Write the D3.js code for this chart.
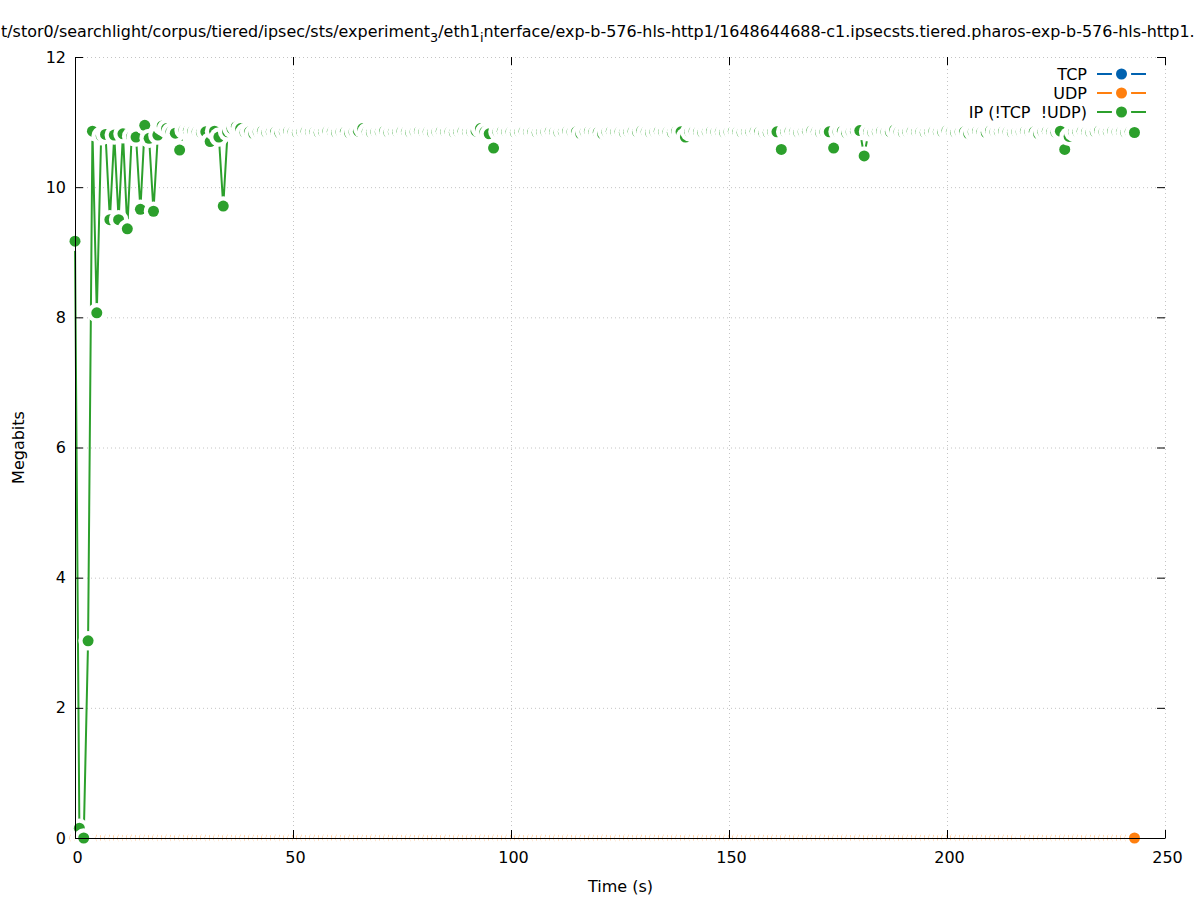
<!DOCTYPE html>
<html>
<head>
<meta charset="utf-8">
<script src="https://cdn.jsdelivr.net/npm/d3@7"></script>
<style>
  html, body { margin: 0; padding: 0; background: #ffffff; }
  svg { display: block; font-family: "DejaVu Sans", sans-serif; }
  text { white-space: pre; }
</style>
</head>
<body>
<svg id="chart" width="1197" height="900"></svg>
<script>
// ---------------- data ----------------
const titleParts = [
  { text: "t/stor0/searchlight/corpus/tiered/ipsec/sts/experiment", sub: false },
  { text: "3", sub: true },
  { text: "/eth1", sub: false },
  { text: "i", sub: true },
  { text: "nterface/exp-b-576-hls-http1/1648644688-c1.ipsecsts.tiered.pharos-exp-b-576-hls-http1.", sub: false }
];
const xLabel = "Time (s)";
const yLabel = "Megabits";
const xTicks = [0, 50, 100, 150, 200, 250];
const yTicks = [0, 2, 4, 6, 8, 10, 12];
const seriesNames = ["TCP", "UDP", "IP (!TCP  !UDP)"];
const seriesColors = ["#0062b0", "#ff7f0e", "#2ca02c"];

const times = [
  0,1,2,3,4,5,6,7,8,9,10,11,12,13,14,15,16,17,18,19,
  20,21,22,23,24,25,26,27,28,29,30,31,32,33,34,35,36,37,38,39,
  40,41,42,43,44,45,46,47,48,49,50,51,52,53,54,55,56,57,58,59,
  60,61,62,63,64,65,66,67,68,69,70,71,72,73,74,75,76,77,78,79,
  80,81,82,83,84,85,86,87,88,89,90,91,92,93,94,95,96,97,98,99,
  100,101,102,103,104,105,106,107,108,109,110,111,112,113,114,115,116,117,118,119,
  120,121,122,123,124,125,126,127,128,129,130,131,132,133,134,135,136,137,138,139,
  140,141,142,143,144,145,146,147,148,149,150,151,152,153,154,155,156,157,158,159,
  160,161,162,163,164,165,166,167,168,169,170,171,172,173,174,175,176,177,178,179,
  180,181,182,183,184,185,186,187,188,189,190,191,192,193,194,195,196,197,198,199,
  200,201,202,203,204,205,206,207,208,209,210,211,212,213,214,215,216,217,218,219,
  220,221,222,223,224,225,226,227,228,229,230,231,232,233,234,235,236,237,238,239,
  240,241,242,243
];

const tcpValues = [
  0,0,0,0,0,0,0,0,0,0,0,0,0,0,0,0,0,0,0,0,0,0,0,0,0,0,0,0,0,0,0,0,0,0,0,0,0,0,0,0,
  0,0,0,0,0,0,0,0,0,0,0,0,0,0,0,0,0,0,0,0,0,0,0,0,0,0,0,0,0,0,0,0,0,0,0,0,0,0,0,0,
  0,0,0,0,0,0,0,0,0,0,0,0,0,0,0,0,0,0,0,0,0,0,0,0,0,0,0,0,0,0,0,0,0,0,0,0,0,0,0,0,
  0,0,0,0,0,0,0,0,0,0,0,0,0,0,0,0,0,0,0,0,0,0,0,0,0,0,0,0,0,0,0,0,0,0,0,0,0,0,0,0,
  0,0,0,0,0,0,0,0,0,0,0,0,0,0,0,0,0,0,0,0,0,0,0,0,0,0,0,0,0,0,0,0,0,0,0,0,0,0,0,0,
  0,0,0,0,0,0,0,0,0,0,0,0,0,0,0,0,0,0,0,0,0,0,0,0,0,0,0,0,0,0,0,0,0,0,0,0,0,0,0,0,
  0,0,0,0
];
const udpValues = [
  0,0,0,0,0,0,0,0,0,0,0,0,0,0,0,0,0,0,0,0,0,0,0,0,0,0,0,0,0,0,0,0,0,0,0,0,0,0,0,0,
  0,0,0,0,0,0,0,0,0,0,0,0,0,0,0,0,0,0,0,0,0,0,0,0,0,0,0,0,0,0,0,0,0,0,0,0,0,0,0,0,
  0,0,0,0,0,0,0,0,0,0,0,0,0,0,0,0,0,0,0,0,0,0,0,0,0,0,0,0,0,0,0,0,0,0,0,0,0,0,0,0,
  0,0,0,0,0,0,0,0,0,0,0,0,0,0,0,0,0,0,0,0,0,0,0,0,0,0,0,0,0,0,0,0,0,0,0,0,0,0,0,0,
  0,0,0,0,0,0,0,0,0,0,0,0,0,0,0,0,0,0,0,0,0,0,0,0,0,0,0,0,0,0,0,0,0,0,0,0,0,0,0,0,
  0,0,0,0,0,0,0,0,0,0,0,0,0,0,0,0,0,0,0,0,0,0,0,0,0,0,0,0,0,0,0,0,0,0,0,0,0,0,0,0,
  0,0,0,0
];
const ipValues = [
  9.17, 0.15, 0.00, 3.03, 10.86, 8.07, 10.79, 10.81, 9.50, 10.80,
  9.50, 10.82, 9.36, 10.78, 10.77, 9.66, 10.95, 10.75, 9.63, 10.80,
  10.94, 10.90, 10.85, 10.83, 10.57, 10.88, 10.87, 10.86, 10.85, 10.84,
  10.85, 10.70, 10.86, 10.77, 9.71, 10.85, 10.90, 10.93, 10.90, 10.84,
  10.85, 10.82, 10.85, 10.86, 10.84, 10.85, 10.85, 10.83, 10.85, 10.86,
  10.85, 10.84, 10.85, 10.86, 10.85, 10.85, 10.84, 10.85, 10.86, 10.85,
  10.84, 10.85, 10.85, 10.83, 10.85, 10.86, 10.90, 10.85, 10.84, 10.85,
  10.85, 10.86, 10.84, 10.85, 10.85, 10.86, 10.85, 10.84, 10.85, 10.86,
  10.85, 10.85, 10.84, 10.85, 10.86, 10.85, 10.85, 10.84, 10.85, 10.86,
  10.85, 10.85, 10.86, 10.90, 10.85, 10.82, 10.60, 10.85, 10.86, 10.85,
  10.85, 10.84, 10.85, 10.86, 10.85, 10.85, 10.84, 10.85, 10.85, 10.86,
  10.85, 10.84, 10.85, 10.86, 10.85, 10.85, 10.82, 10.85, 10.86, 10.85,
  10.84, 10.82, 10.85, 10.86, 10.85, 10.85, 10.84, 10.85, 10.86, 10.85,
  10.87, 10.85, 10.84, 10.85, 10.86, 10.85, 10.85, 10.84, 10.86, 10.85,
  10.77, 10.85, 10.86, 10.85, 10.84, 10.85, 10.86, 10.85, 10.85, 10.84,
  10.85, 10.86, 10.85, 10.84, 10.85, 10.85, 10.86, 10.85, 10.83, 10.84,
  10.85, 10.85, 10.58, 10.85, 10.86, 10.85, 10.84, 10.85, 10.86, 10.87,
  10.85, 10.84, 10.85, 10.85, 10.60, 10.85, 10.86, 10.83, 10.85, 10.86,
  10.87, 10.48, 10.85, 10.84, 10.85, 10.86, 10.85, 10.85, 10.88, 10.85,
  10.84, 10.85, 10.86, 10.85, 10.85, 10.84, 10.85, 10.86, 10.85, 10.85,
  10.87, 10.85, 10.84, 10.85, 10.85, 10.82, 10.85, 10.86, 10.85, 10.84,
  10.87, 10.85, 10.85, 10.86, 10.85, 10.84, 10.85, 10.85, 10.86, 10.85,
  10.85, 10.82, 10.85, 10.86, 10.85, 10.84, 10.86, 10.58, 10.78, 10.85,
  10.85, 10.86, 10.85, 10.84, 10.85, 10.87, 10.85, 10.85, 10.86, 10.85,
  10.85, 10.84, 10.85, 10.84
];

// ---------------- layout ----------------
const svg = d3.select("#chart");
const W = 1197, H = 900;
const plot = { left: 75, right: 1165, top: 57, bottom: 838 };
const FONT = 16;
const DISC_R = 5.5, HALO_R = 9.7, LINE_W = 2;

svg.append("rect").attr("width", W).attr("height", H).attr("fill", "#ffffff");

const x = d3.scaleLinear().domain([0, 250]).range([plot.left, plot.right]);
const y = d3.scaleLinear().domain([0, 12]).range([plot.bottom, plot.top]);

// grid
const gridStyle = g => g.call(s => s.select(".domain").remove())
  .call(s => s.selectAll(".tick line")
    .attr("stroke", "#c4c4c4").attr("stroke-width", 1).attr("stroke-dasharray", "1,3"))
  .call(s => s.selectAll(".tick text").remove());

svg.append("g").attr("transform", `translate(0,${plot.bottom})`)
  .call(d3.axisBottom(x).tickValues(xTicks.filter(v => v > 0)).tickSize(-(plot.bottom - plot.top)).tickFormat(""))
  .call(gridStyle);
svg.append("g").attr("transform", `translate(${plot.left},0)`)
  .call(d3.axisLeft(y).tickValues(yTicks.filter(v => v > 0)).tickSize(-(plot.right - plot.left)).tickFormat(""))
  .call(gridStyle);

// series
const seriesValues = [tcpValues, udpValues, ipValues];
const line = d3.line().x(d => x(d.t)).y(d => y(d.v));

seriesValues.forEach((vals, si) => {
  const data = times.map((t, i) => ({ t, v: vals[i] }));
  const g = svg.append("g");
  g.append("path").datum(data)
    .attr("d", line)
    .attr("fill", "none")
    .attr("stroke", seriesColors[si])
    .attr("stroke-width", LINE_W)
    .attr("stroke-linejoin", "miter");
  const pts = g.selectAll("g.pt").data(data).join("g").attr("class", "pt")
    .attr("transform", d => `translate(${x(d.t)},${y(d.v)})`);
  pts.append("circle").attr("r", HALO_R).attr("fill", "#ffffff");
  pts.append("circle").attr("r", DISC_R).attr("fill", seriesColors[si]);
});

// axes (border left & bottom, mirrored ticks on top & right)
const axisStyle = g => g
  .call(s => s.selectAll(".tick line").attr("stroke", "#000").attr("stroke-width", 1))
  .call(s => s.select(".domain").attr("stroke", "#000").attr("stroke-width", 1))
  .call(s => s.selectAll(".tick text").attr("fill", "#000").attr("font-size", FONT)
    .attr("font-family", "DejaVu Sans, sans-serif"));

svg.append("g").attr("transform", `translate(0,${plot.bottom})`)
  .call(d3.axisBottom(x).tickValues(xTicks).tickSize(-8).tickSizeOuter(0).tickPadding(14))
  .call(axisStyle)
  .call(s => s.selectAll(".tick text").attr("dx", 2));

svg.append("g").attr("transform", `translate(${plot.left},0)`)
  .call(d3.axisLeft(y).tickValues(yTicks).tickSize(-8).tickSizeOuter(0).tickPadding(9))
  .call(axisStyle);

svg.append("g").attr("transform", `translate(0,${plot.top})`)
  .call(d3.axisTop(x).tickValues(xTicks).tickSize(-8).tickFormat(""))
  .call(axisStyle).call(s => s.select(".domain").remove());

svg.append("g").attr("transform", `translate(${plot.right},0)`)
  .call(d3.axisRight(y).tickValues(yTicks).tickSize(-8).tickFormat(""))
  .call(axisStyle).call(s => s.select(".domain").remove());

// axis labels
svg.append("text")
  .attr("x", (plot.left + plot.right) / 2 + 0.5).attr("y", 892)
  .attr("text-anchor", "middle").attr("font-size", FONT).attr("fill", "#000")
  .text(xLabel);
svg.append("text")
  .attr("transform", `translate(24,${(plot.top + plot.bottom) / 2}) rotate(-90)`)
  .attr("text-anchor", "middle").attr("font-size", FONT).attr("fill", "#000")
  .text(yLabel);

// title (fit inside the page width)
const title = svg.append("text").attr("x", 1).attr("y", 37)
  .attr("font-size", FONT).attr("fill", "#000");
titleParts.forEach((p, i) => {
  const prevSub = i > 0 && titleParts[i - 1].sub;
  const ts = title.append("tspan").attr("class", p.sub ? "sub" : "main").text(p.text);
  if (p.sub) ts.attr("dy", 5);
  else if (prevSub) ts.attr("dy", -5);
});
title.selectAll("tspan.sub").attr("font-size", FONT * 0.8);
const avail = W - 3;
const len = title.node().getComputedTextLength();
if (len > avail) {
  const f = FONT * avail / len;
  title.attr("font-size", f);
  title.selectAll("tspan.sub").attr("font-size", f * 0.8);
}

// legend
const legend = svg.append("g");
seriesNames.forEach((name, i) => {
  const ly = 74 + i * 19;
  legend.append("text").attr("x", 1087).attr("y", ly).attr("dy", "0.35em")
    .attr("xml:space", "preserve")
    .attr("text-anchor", "end").attr("font-size", FONT).attr("fill", "#000").text(name);
  legend.append("line").attr("x1", 1097).attr("x2", 1146).attr("y1", ly).attr("y2", ly)
    .attr("stroke", seriesColors[i]).attr("stroke-width", LINE_W);
  legend.append("circle").attr("cx", 1121.5).attr("cy", ly).attr("r", HALO_R).attr("fill", "#fff");
  legend.append("circle").attr("cx", 1121.5).attr("cy", ly).attr("r", DISC_R).attr("fill", seriesColors[i]);
});
</script>
</body>
</html>
